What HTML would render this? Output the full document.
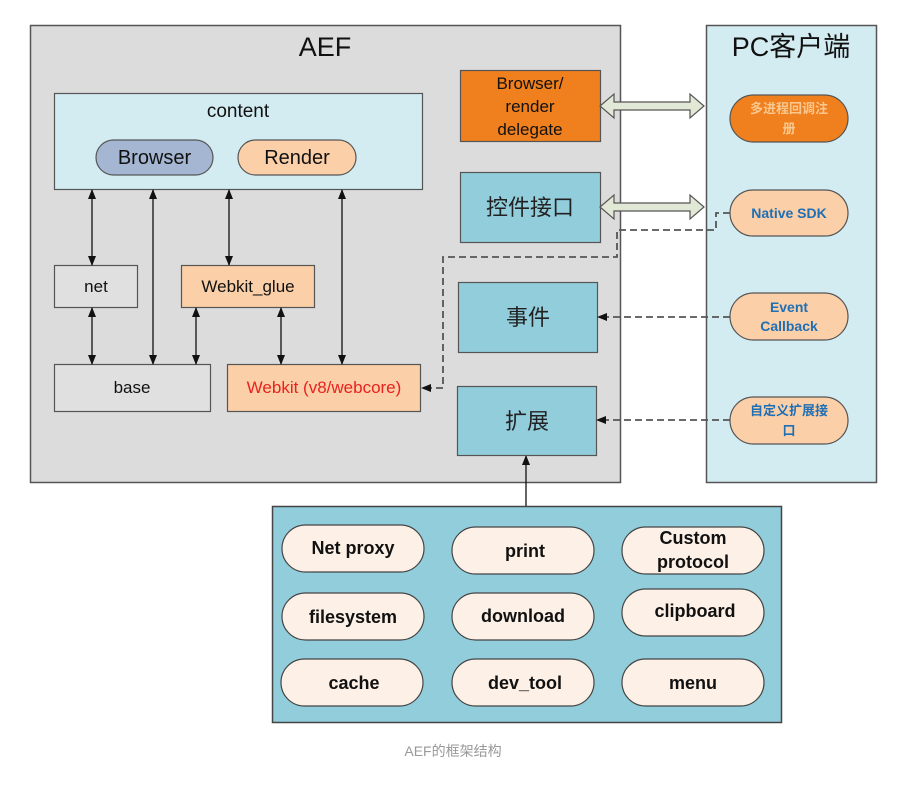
<!DOCTYPE html>
<html><head><meta charset="utf-8"><style>
html,body{margin:0;padding:0;background:#fff;}
svg{display:block;}
text{font-family:"Liberation Sans","Noto Sans CJK SC",sans-serif;}
</style></head><body>
<svg width="915" height="787" viewBox="0 0 915 787" xmlns="http://www.w3.org/2000/svg">
<defs>
<marker id="ah" markerWidth="10" markerHeight="10" refX="9" refY="5" orient="auto-start-reverse" markerUnits="userSpaceOnUse">
<path d="M0,1 L10,5 L0,9 Z" fill="#111"/></marker>
</defs>
<!-- AEF -->
<rect x="30.5" y="25.5" width="590" height="457" fill="#dcdcdc" stroke="#555" stroke-width="1.5"/>
<text x="325" y="56" font-size="27" text-anchor="middle" fill="#111">AEF</text>
<!-- PC -->
<rect x="706.5" y="25.5" width="170" height="457" fill="#d3ecf2" stroke="#555" stroke-width="1.5"/>
<text x="791" y="56" font-size="27" text-anchor="middle" fill="#111">PC客户端</text>
<!-- content -->
<rect x="54.5" y="93.5" width="368" height="96" fill="#d3ecf2" stroke="#555" stroke-width="1.2"/>
<text x="238" y="117" font-size="19" text-anchor="middle" fill="#111">content</text>
<rect x="96" y="140" width="117" height="35" rx="17.5" fill="#a4b6d2" stroke="#555" stroke-width="1.2"/>
<text x="154.5" y="164" font-size="20" text-anchor="middle" fill="#111">Browser</text>
<rect x="238" y="140" width="118" height="35" rx="17.5" fill="#fbcfa8" stroke="#555" stroke-width="1.2"/>
<text x="297" y="164" font-size="20" text-anchor="middle" fill="#111">Render</text>
<!-- net, glue, base, webkit -->
<rect x="54.5" y="265.5" width="83" height="42" fill="#e0e0e0" stroke="#555" stroke-width="1.2"/>
<text x="96" y="292" font-size="17" text-anchor="middle" fill="#111">net</text>
<rect x="181.5" y="265.5" width="133" height="42" fill="#fbcfa8" stroke="#555" stroke-width="1.2"/>
<text x="248" y="292" font-size="17" text-anchor="middle" fill="#111">Webkit_glue</text>
<rect x="54.5" y="364.5" width="156" height="47" fill="#e0e0e0" stroke="#555" stroke-width="1.2"/>
<text x="132" y="393" font-size="17" text-anchor="middle" fill="#111">base</text>
<rect x="227.5" y="364.5" width="193" height="47" fill="#fbcfa8" stroke="#555" stroke-width="1.2"/>
<text x="324" y="393" font-size="17" text-anchor="middle" fill="#e8221e">Webkit (v8/webcore)</text>
<!-- vertical arrows -->
<g stroke="#111" stroke-width="1.3" fill="none">
<line x1="92" y1="190" x2="92" y2="265" marker-start="url(#ah)" marker-end="url(#ah)"/>
<line x1="153" y1="190" x2="153" y2="364" marker-start="url(#ah)" marker-end="url(#ah)"/>
<line x1="229" y1="190" x2="229" y2="265" marker-start="url(#ah)" marker-end="url(#ah)"/>
<line x1="342" y1="190" x2="342" y2="364" marker-start="url(#ah)" marker-end="url(#ah)"/>
<line x1="92" y1="308" x2="92" y2="364" marker-start="url(#ah)" marker-end="url(#ah)"/>
<line x1="196" y1="308" x2="196" y2="364" marker-start="url(#ah)" marker-end="url(#ah)"/>
<line x1="281" y1="308" x2="281" y2="364" marker-start="url(#ah)" marker-end="url(#ah)"/>
<line x1="526" y1="506" x2="526" y2="456" marker-end="url(#ah)"/>
</g>
<!-- right column AEF -->
<rect x="460.5" y="70.5" width="140" height="71" fill="#f07f1e" stroke="#555" stroke-width="1.2"/>
<text x="530" y="89" font-size="17" text-anchor="middle" fill="#111">Browser/</text>
<text x="530" y="112" font-size="17" text-anchor="middle" fill="#111">render</text>
<text x="530" y="135" font-size="17" text-anchor="middle" fill="#111">delegate</text>
<rect x="460.5" y="172.5" width="140" height="70" fill="#92cddc" stroke="#555" stroke-width="1.2"/>
<text x="530" y="215" font-size="22" text-anchor="middle" fill="#222">控件接口</text>
<rect x="458.5" y="282.5" width="139" height="70" fill="#92cddc" stroke="#555" stroke-width="1.2"/>
<text x="528" y="325" font-size="22" text-anchor="middle" fill="#222">事件</text>
<rect x="457.5" y="386.5" width="139" height="69" fill="#92cddc" stroke="#555" stroke-width="1.2"/>
<text x="527" y="429" font-size="22" text-anchor="middle" fill="#222">扩展</text>
<!-- double hollow arrows -->
<g fill="#e2e8d6" stroke="#555" stroke-width="1.2">
<path d="M600,106 L614,94 L614,102 L690,102 L690,94 L704,106 L690,118 L690,110 L614,110 L614,118 Z"/>
<path d="M600,207 L614,195 L614,203 L690,203 L690,195 L704,207 L690,219 L690,211 L614,211 L614,219 Z"/>
</g>
<!-- PC pills -->
<rect x="730" y="95" width="118" height="47" rx="23.5" fill="#f07f1e" stroke="#555" stroke-width="1.2"/>
<text x="789" y="113" font-size="13" text-anchor="middle" fill="#f8c890" font-weight="bold">多进程回调注</text>
<text x="789" y="133" font-size="13" text-anchor="middle" fill="#f8c890" font-weight="bold">册</text>
<rect x="730" y="190" width="118" height="46" rx="23" fill="#fbcfa8" stroke="#555" stroke-width="1.2"/>
<text x="789" y="218" font-size="14" text-anchor="middle" fill="#1f6fb5" font-weight="bold">Native SDK</text>
<rect x="730" y="293" width="118" height="47" rx="23.5" fill="#fbcfa8" stroke="#555" stroke-width="1.2"/>
<text x="789" y="312" font-size="14" text-anchor="middle" fill="#1f6fb5" font-weight="bold">Event</text>
<text x="789" y="331" font-size="14" text-anchor="middle" fill="#1f6fb5" font-weight="bold">Callback</text>
<rect x="730" y="397" width="118" height="47" rx="23.5" fill="#fbcfa8" stroke="#555" stroke-width="1.2"/>
<text x="789" y="415" font-size="13" text-anchor="middle" fill="#1f6fb5" font-weight="bold">自定义扩展接</text>
<text x="789" y="435" font-size="13" text-anchor="middle" fill="#1f6fb5" font-weight="bold">口</text>
<!-- dashed -->
<g stroke="#555" stroke-width="1.8" fill="none" stroke-dasharray="7,4">
<polyline points="730,213 716,213 716,230 617,230 617,257 443,257 443,388 423,388"/>
<line x1="730" y1="317" x2="605" y2="317"/>
<line x1="730" y1="420" x2="604" y2="420"/>
</g>
<path d="M421,388 L431,384 L431,392 Z" fill="#111"/>
<path d="M597,317 L607,313 L607,321 Z" fill="#111"/>
<path d="M596,420 L606,416 L606,424 Z" fill="#111"/>
<!-- bottom box -->
<rect x="272.5" y="506.5" width="509" height="216" fill="#92cddc" stroke="#444" stroke-width="1.5"/>
<g fill="#fdf0e6" stroke="#444" stroke-width="1.2">
<rect x="282" y="525" width="142" height="47" rx="23.5"/>
<rect x="452" y="527" width="142" height="47" rx="23.5"/>
<rect x="622" y="527" width="142" height="47" rx="23.5"/>
<rect x="282" y="593" width="142" height="47" rx="23.5"/>
<rect x="452" y="593" width="142" height="47" rx="23.5"/>
<rect x="622" y="589" width="142" height="47" rx="23.5"/>
<rect x="281" y="659" width="142" height="47" rx="23.5"/>
<rect x="452" y="659" width="142" height="47" rx="23.5"/>
<rect x="622" y="659" width="142" height="47" rx="23.5"/>
</g>
<g font-size="18" font-weight="bold" text-anchor="middle" fill="#111">
<text x="353" y="554">Net proxy</text>
<text x="525" y="557">print</text>
<text x="693" y="544">Custom</text>
<text x="693" y="568">protocol</text>
<text x="353" y="623">filesystem</text>
<text x="523" y="622">download</text>
<text x="695" y="617">clipboard</text>
<text x="354" y="689">cache</text>
<text x="525" y="689">dev_tool</text>
<text x="693" y="689">menu</text>
</g>
<text x="453" y="756" font-size="14" text-anchor="middle" fill="#999">AEF的框架结构</text>
</svg>
</body></html>
